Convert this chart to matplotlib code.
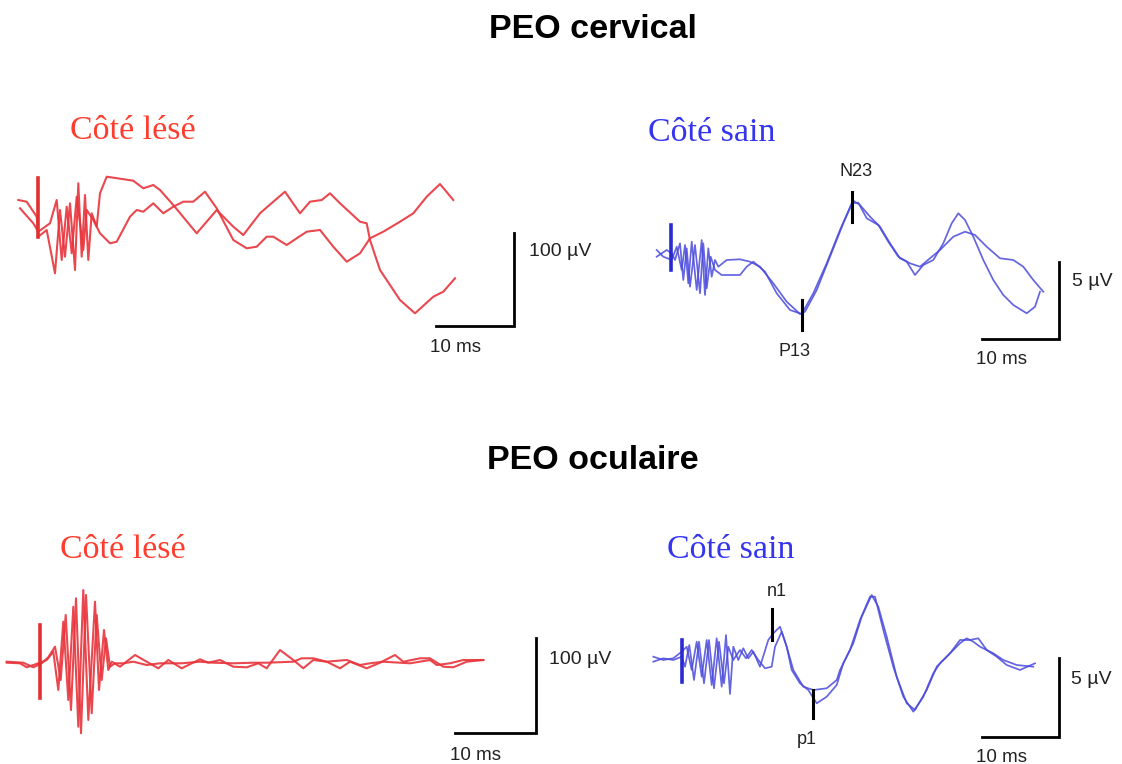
import matplotlib
matplotlib.use("Agg")
import matplotlib.pyplot as plt
import numpy as np

# ---------------- data (image pixel units) ----------------
# Cervical, injured side (red), two sweeps
cerv_les_a_x = [18.3, 26.7, 36.7, 38.3, 46.7, 55, 60, 65, 70, 75, 78.3, 81.7, 85, 88.3, 91.7, 96.7, 100,
                106.7, 133.3, 143.3, 153.3, 160, 173.3, 196.7, 216.7, 233.3, 243.3, 260, 273.3, 285, 300,
                310, 321.7, 330, 340, 360, 366.7, 370, 380, 400, 415, 433.3, 443.3, 455]
cerv_les_a_y = [200, 201.7, 216.7, 236.7, 230, 273.3, 210, 256.7, 203.3, 270, 183.3, 256.7, 195, 260, 213.3,
                226.7, 193.3, 176.7, 180.7, 188.3, 185, 190, 205, 233.3, 210, 226.7, 235, 213.3, 201.7, 191.7,
                213.3, 201.7, 200, 193.3, 203.3, 221.7, 223.3, 240, 270, 300, 313.3, 296.7, 291.7, 278.3]
cerv_les_b_x = [20, 33.3, 38.3, 50, 56.7, 61.7, 66.7, 71.7, 76.7, 83.3, 86.7, 93.3, 100, 110, 116.7, 130,
                136.7, 143.3, 153.3, 163.3, 173.3, 183.3, 193.3, 205, 216.7, 233.3, 246.7, 256.7, 266.7,
                273.3, 286.7, 296.7, 306.7, 320, 333.3, 346.7, 360, 370, 383.3, 400, 413.3, 426.7, 440, 453.3]
cerv_les_b_y = [208.3, 223.3, 231.7, 223.3, 200, 260, 206.7, 253.3, 196.7, 250, 210, 220, 233.3, 243.3,
                241.7, 216.7, 210, 211.7, 203.3, 213.3, 206.7, 201.7, 201.7, 191.7, 208.3, 240, 248.3,
                246.7, 236.7, 236.7, 245, 238.3, 231.7, 230, 246.7, 261.7, 253.3, 238.3, 231.7, 221.7,
                213.3, 196.7, 184, 200]

# Cervical, healthy side (blue), two sweeps
cerv_sain_a_x = [656.7, 663.3, 671.7, 676.7, 681.7, 685, 688.3, 691.7, 696.7, 701.7, 705, 708.3, 711.7,
                 715, 718.3, 726.7, 740, 750, 760, 773.3, 786.7, 800, 805, 816.7, 830, 843.3, 853.3, 860,
                 870, 880, 890, 900, 906.7, 915, 923.3, 933.3, 943.3, 951.7, 958.3, 965, 973.3, 983.3,
                 993.3, 1003.3, 1013.3, 1026.7, 1035, 1040]
cerv_sain_a_y = [250, 256.7, 260, 246.7, 270, 245, 283.3, 241.7, 290, 240, 295, 248.3, 276.7, 260, 266.7,
                 260, 259.3, 261.7, 266.7, 283.3, 301.7, 314, 311.7, 290, 256.7, 223.3, 200.7, 205, 216.7,
                 226.7, 243.3, 258.3, 261.7, 275, 265, 260, 243.3, 223.3, 213.3, 220, 236.7, 260, 280,
                 295, 305, 313.3, 306.7, 291.7]
cerv_sain_b_x = [656.7, 666.7, 671.7, 675, 680, 683.3, 686.7, 690, 695, 700, 703.3, 706.7, 710.7, 715,
                 721.7, 740, 746.7, 753.3, 765, 776.7, 790, 801.7, 813.3, 826.7, 840, 851.7, 858.3, 866.7,
                 878.3, 888.3, 898.3, 910, 920, 930, 940, 953.3, 965, 975, 986.7, 1000, 1013.3, 1023.3,
                 1033.3, 1043.3]
cerv_sain_b_y = [256.7, 250, 253.3, 260, 243.3, 280, 248.3, 286.7, 245, 293.3, 243.3, 288.3, 256.7, 270,
                 275, 275, 266.7, 261.7, 271.7, 293.3, 310, 314, 293.3, 263.3, 230, 203.3, 202.7, 218.3,
                 225, 241.7, 256.7, 263.3, 266.7, 258.3, 250, 236.7, 231.7, 235, 246.7, 258.3, 260,
                 266.7, 280, 291.7]

# Ocular, injured side (red), two sweeps
ocul_les_a_x = [6.7, 20, 26.7, 33.3, 40, 46.7, 53.3, 58.3, 63.3, 68.3, 73.3, 78.3, 83.3, 88.3, 95, 99,
                104, 108.3, 111.7, 120, 135, 146.7, 158.3, 168.3, 181.7, 200, 208.3, 220, 233.3, 246.7,
                258.3, 266.7, 280, 293.3, 303.3, 313.3, 326.7, 340, 350, 366.7, 380, 395, 403.3, 420,
                430, 443.3, 453.3, 466.7, 483.3]
ocul_les_a_y = [662.7, 663.3, 667.3, 665, 662.7, 660, 651.7, 690, 621.7, 700, 606.7, 726.7, 590, 720,
                601.7, 690, 630, 670, 661.7, 666.7, 655, 661.7, 668.3, 660, 668.3, 659.3, 662.7, 660,
                666.7, 667.3, 663.3, 668.3, 650, 660, 668.3, 660, 661.7, 668.3, 661.7, 668.3, 662.7,
                655, 661.7, 658.3, 658.3, 666.7, 667.3, 661.7, 660]
ocul_les_b_x = [6.7, 23.3, 33.3, 41.7, 48.3, 55, 60.7, 65.7, 71, 76, 81, 86, 91.7, 96.7, 101.7, 106,
                110, 115, 123.3, 133.3, 146.7, 160, 170, 181.7, 200, 213.3, 233.3, 253.3, 266.7, 293.3,
                301.7, 313.3, 326.7, 346.7, 360, 370, 383.3, 410, 430, 436.7, 450, 463.3, 483.3]
ocul_les_b_y = [661.7, 662.7, 667.3, 663.3, 657.3, 646.7, 680, 615, 710, 598.3, 733.3, 595, 713.3, 615,
                680, 638.3, 666.7, 663.3, 663.3, 661.7, 665, 663.3, 663.3, 663.3, 661.7, 662.7, 663.3,
                662.7, 662.7, 661.7, 658.3, 658.3, 661.7, 660, 665, 663.3, 661.7, 663.3, 660, 665,
                663.3, 660, 660]

# Ocular, healthy side (blue), two sweeps
ocul_sain_a_x = [653.3, 663.3, 673.3, 681.7, 686.7, 691.7, 696.7, 701.7, 706.7, 711.7, 716.7, 721.7, 726,
                 730, 733.3, 738.3, 743.3, 748.3, 753.3, 760, 768.3, 773.3, 780, 786.7, 793.3, 803.3,
                 813.3, 826.7, 836.7, 840, 850, 860, 870, 875, 883.3, 893.3, 903.3, 913.3, 923.3, 933.3,
                 940, 950, 960, 970, 978.3, 986.7, 996.7, 1006.7, 1020, 1035]
ocul_sain_a_y = [656.7, 660, 658.3, 651.7, 646.7, 670, 641.7, 676.7, 640, 685, 638.3, 686.7, 635, 694,
                 646.7, 660, 648.3, 658.3, 651.7, 666.7, 640, 633.3, 626.7, 646.7, 670, 686.7, 690, 688.3,
                 680, 670, 650, 620, 596.7, 596.7, 630, 666.7, 696.7, 711.7, 696.7, 673.3, 663.3, 653.3,
                 640, 640, 638.3, 650, 656.7, 665, 670, 663.3]
ocul_sain_b_x = [653.3, 663.3, 673.3, 681.7, 685, 689.3, 694, 699, 704, 709, 714, 719, 724, 728.3, 733.3,
                 740, 746, 751.7, 758.3, 765, 771.7, 775, 781.7, 786.7, 791.7, 800, 808.3, 816.7, 826.7,
                 836.7, 843.3, 853.3, 861.7, 871.7, 878.3, 886.7, 896.7, 906.7, 915, 926.7, 936.7, 946.7,
                 960, 966.7, 973.3, 980, 993.3, 1003.3, 1016.7, 1033.3]
ocul_sain_b_y = [661.7, 658.3, 660, 656.7, 666.7, 645, 680, 641.7, 683.3, 640, 688.3, 641.7, 683.3, 646.7,
                 660, 650, 658.3, 650, 660, 668.3, 666.7, 646.7, 631.7, 646.7, 670, 683.3, 690, 703.3,
                 696.7, 685, 663.3, 643.3, 616.7, 595, 606.7, 636.7, 676.7, 703.3, 710, 690, 666.7,
                 656.7, 643.3, 638.3, 641.7, 646.7, 653.3, 660, 665, 666.7]

# Stimulus artefacts: (x, y_top, y_bottom, colour)
stim_marks = [(38.3, 178, 237, "#e03030"), (671.5, 225, 270, "#2a2ad0"),
              (40, 625, 698, "#e03030"), (681.7, 640, 682, "#2a2ad0")]

# Peak labels
peak_labels = ["P13", "N23", "n1", "p1"]
peak_mark_x = [802.3, 852.3, 772.3, 813]
peak_mark_y0 = [300, 192, 609, 690]
peak_mark_y1 = [330, 222, 640, 718]
peak_text_x = [795, 856, 777, 807]
peak_text_y = [352, 172, 591, 740]

# Scale bars
scale_corner_x = [514.3, 1059, 536, 1059]
scale_corner_y = [326, 339, 733.3, 736.7]
scale_left_x = [436, 981.7, 455, 981.7]
scale_top_y = [232.7, 261.7, 638.3, 658.3]
scale_amp_labels = ["100 µV", "5 µV", "100 µV", "5 µV"]
scale_amp_x = [529, 1072, 549, 1071]
scale_amp_y = [252, 282, 660, 680]
scale_time_labels = ["10 ms", "10 ms", "10 ms", "10 ms"]
scale_time_x = [430, 976, 450, 976]
scale_time_y = [347, 359, 755, 757]

titles = ["PEO cervical", "PEO oculaire"]
title_y = [38, 469]
side_labels = ["Côté lésé", "Côté sain", "Côté lésé", "Côté sain"]
side_x = [70, 648, 60, 667]
side_y = [139, 141, 558, 558]
side_colors = ["#ff3d2e", "#3535f0", "#ff3d2e", "#3535f0"]

# ---------------- drawing ----------------
fig = plt.figure(figsize=(11.22, 7.64), dpi=100)
ax = fig.add_axes([0, 0, 1, 1])
ax.set_xlim(0, 1122)
ax.set_ylim(764, 0)
ax.axis("off")

red = "#e8343c"
blue = "#4a4adc"

for xs, ys in [(cerv_les_a_x, cerv_les_a_y), (cerv_les_b_x, cerv_les_b_y),
               (ocul_les_a_x, ocul_les_a_y), (ocul_les_b_x, ocul_les_b_y)]:
    ax.plot(xs, ys, color=red, lw=1.5, alpha=0.9, solid_joinstyle="round")
for xs, ys in [(cerv_sain_a_x, cerv_sain_a_y), (cerv_sain_b_x, cerv_sain_b_y),
               (ocul_sain_a_x, ocul_sain_a_y), (ocul_sain_b_x, ocul_sain_b_y)]:
    ax.plot(xs, ys, color=blue, lw=1.25, alpha=0.85, solid_joinstyle="round")

for x, y0, y1, c in stim_marks:
    ax.plot([x, x], [y0, y1], color=c, lw=2.6)

for t, mx, y0, y1, tx, ty in zip(peak_labels, peak_mark_x, peak_mark_y0, peak_mark_y1,
                                  peak_text_x, peak_text_y):
    ax.plot([mx, mx], [y0, y1], color="black", lw=2.2)
    ax.text(tx, ty, t, ha="center", va="center", fontsize=13,
            family="Liberation Sans", color="#222222")

for cx, cy, lx, ty, al, ax_, ay, tl, tx, tyy in zip(scale_corner_x, scale_corner_y, scale_left_x,
                                                    scale_top_y, scale_amp_labels, scale_amp_x,
                                                    scale_amp_y, scale_time_labels, scale_time_x,
                                                    scale_time_y):
    ax.plot([lx, cx, cx], [cy, cy, ty], color="black", lw=2.0, solid_joinstyle="miter")
    ax.text(ax_, ay, al, ha="left", va="center", fontsize=14, family="Liberation Sans",
            color="#222222")
    ax.text(tx, tyy, tl, ha="left", va="center", fontsize=13.5, family="Liberation Sans",
            color="#222222")

for t, y in zip(titles, title_y):
    ax.text(593, y, t, ha="center", va="baseline", fontsize=24.5, fontweight="bold",
            family="Liberation Sans", color="black")

for t, x, y, c in zip(side_labels, side_x, side_y, side_colors):
    ax.text(x, y, t, ha="left", va="baseline", fontsize=24.5, family="Liberation Serif", color=c)

fig.savefig("out.png", dpi=100)
